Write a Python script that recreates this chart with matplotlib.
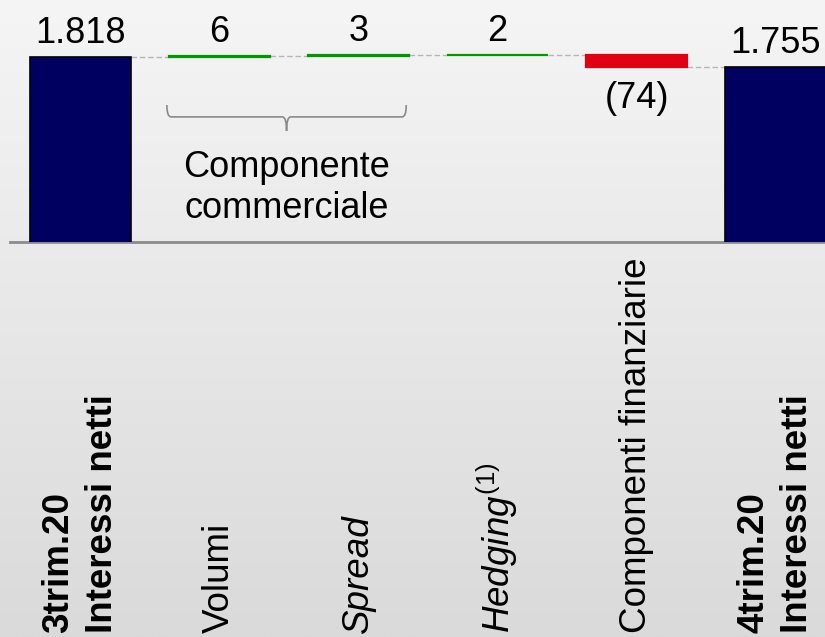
import numpy as np
import matplotlib.pyplot as plt
from matplotlib.colors import LinearSegmentedColormap
from matplotlib.path import Path
from matplotlib.patches import PathPatch
from matplotlib.transforms import blended_transform_factory

plt.rcParams['font.family'] = ['Liberation Sans', 'DejaVu Sans']
plt.rcParams['mathtext.fontset'] = 'custom'
plt.rcParams['mathtext.rm'] = 'Liberation Sans'
plt.rcParams['mathtext.it'] = 'Liberation Sans:italic'

# data (milioni di euro)
categories = ["3trim.20\nInteressi netti", "Volumi", "Spread",
              r"$\mathit{Hedging}^{\mathrm{(1)}}$", "Componenti finanziarie",
              "4trim.20\nInteressi netti"]
label_style = ['bold', 'normal', 'italic', 'normal', 'normal', 'bold']
start_value = 1818
deltas = [6, 3, 2, -74]
end_value = 1755

navy = '#000060'
green = '#009a00'
red = '#e00012'

def fmt(v):
    s = f"{abs(v):,}".replace(",", ".")
    return f"({s})" if v < 0 else s

fig = plt.figure(figsize=(8.25, 6.37), dpi=100)

# gradient background
bg = fig.add_axes([0, 0, 1, 1], zorder=-1)
grad = np.linspace(0, 1, 256).reshape(-1, 1)
bg.imshow(grad, aspect='auto', extent=[0, 1, 0, 1],
          cmap=LinearSegmentedColormap.from_list('bg', ['#f5f5f5', '#dadada']))
bg.axis('off')

ax = fig.add_axes([10 / 825, 395 / 637, 815 / 825, 242 / 637])
ax.set_facecolor('none')
ax.set_xlim(-0.507, 5.356)
ax.set_ylim(660, 2172)

w = 0.727
n = len(categories)
x = np.arange(n)

# totals
ax.bar(x[0], start_value, width=w, color=navy, edgecolor='black', linewidth=1.2, zorder=3)
ax.bar(x[-1], end_value, width=w, color=navy, edgecolor='black', linewidth=1.2, zorder=3)
ax.annotate(fmt(start_value), (x[0], start_value), xytext=(0, 10), textcoords='offset points',
            ha='center', va='baseline', fontsize=26)
ax.annotate(fmt(end_value), (x[-1], end_value), xytext=(0, 10), textcoords='offset points',
            ha='center', va='baseline', fontsize=26)

# deltas
running = start_value
levels = [start_value]
for i, d in enumerate(deltas, start=1):
    bottom = running if d > 0 else running + d
    c = green if d > 0 else red
    ax.bar(x[i], abs(d), bottom=bottom, width=w, color=c, edgecolor=c, linewidth=1.6, zorder=3)
    if d > 0:
        ax.annotate(fmt(d), (x[i], running + d), xytext=(0, 10), textcoords='offset points',
                    ha='center', va='baseline', fontsize=26)
    else:
        ax.annotate(fmt(d), (x[i], running + d), xytext=(0, -29.5), textcoords='offset points',
                    ha='center', va='baseline', fontsize=26)
    running += d
    levels.append(running)

# dashed connectors
for i in range(n - 1):
    ax.plot([x[i] + w / 2, x[i + 1] - w / 2], [levels[i], levels[i]],
            color='#b5b5b5', linestyle=(0, (4, 2)), linewidth=1, zorder=2)

# brace for "Componente commerciale"
tr = blended_transform_factory(ax.transData, ax.transAxes)
x0, x1 = x[1] - w / 2 - 0.015, x[2] + w / 2 - 0.02
xm = (x0 + x1) / 2
ytop, ymid, ytip = 0.566, 0.517, 0.459
r = 0.03
verts = [(x0, ytop), (x0, ymid), (x0 + r, ymid),
         (xm - r, ymid), (xm, ymid), (xm, ytip),
         (xm, ymid), (xm + r, ymid),
         (x1 - r, ymid), (x1, ymid), (x1, ytop)]
codes = [Path.MOVETO, Path.CURVE3, Path.CURVE3,
         Path.LINETO, Path.CURVE3, Path.CURVE3,
         Path.CURVE3, Path.CURVE3,
         Path.LINETO, Path.CURVE3, Path.CURVE3]
ax.add_patch(PathPatch(Path(verts, codes), transform=tr, facecolor='none',
                       edgecolor='#8a8a8a', linewidth=1.2, clip_on=False))
ax.text(xm, 0.225, "Componente\ncommerciale", transform=tr, ha='center', va='center',
        fontsize=26, linespacing=1.22)

# axis
for s in ['top', 'right', 'left']:
    ax.spines[s].set_visible(False)
ax.spines['bottom'].set_color('#8c8c8c')
ax.spines['bottom'].set_linewidth(2)
ax.set_xticks([])
ax.set_yticks([])

# category labels, rotated, anchored at the bottom of the figure
tl = blended_transform_factory(ax.transData, fig.transFigure)
for i, (lab, st) in enumerate(zip(categories, label_style)):
    ax.text(x[i], 4 / 637, lab, transform=tl, rotation=90, ha='center', va='bottom',
            multialignment='left', fontsize=26.5, linespacing=1.32,
            fontweight='bold' if st == 'bold' else 'normal',
            fontstyle='italic' if st == 'italic' else 'normal')

fig.savefig('out.png', dpi=100)
